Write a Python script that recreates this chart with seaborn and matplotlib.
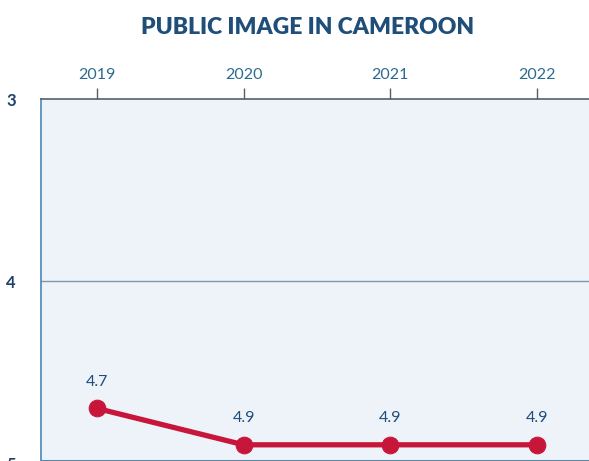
import matplotlib
matplotlib.use("Agg")
import matplotlib.pyplot as plt
import seaborn as sns
import pandas as pd

years = [2019, 2020, 2021, 2022]
scores = [4.7, 4.9, 4.9, 4.9]
score_labels = ["4.7", "4.9", "4.9", "4.9"]
y_ticks = [3, 4, 5]

sns.set_theme(style="white")
plt.rcParams['font.family'] = ['Lato', 'DejaVu Sans']

df = pd.DataFrame({"year": years, "score": scores})

W, H = 589, 461
x_left, x_right = 41, 610
y_top, y_bot = 99, 463
fig = plt.figure(figsize=(W/100, H/100), dpi=100)
ax = fig.add_axes([x_left/W, 1 - y_bot/H, (x_right - x_left)/W, (y_bot - y_top)/H])
ax.set_facecolor("#eef3fa")

sns.lineplot(data=df, x="year", y="score", ax=ax, color="#c8163a",
             linewidth=3.8, marker="o", markersize=12,
             markeredgecolor="#c8163a", zorder=5)

for x, y, t in zip(years, scores, score_labels):
    ax.annotate(t, (x, y), xytext=(0, 19), textcoords="offset points",
                ha="center", va="center", fontsize=11.5, color="#1f4e79")

px_per_year = 147
ax.set_xlim(2019 - (97 - x_left)/px_per_year, 2022 + (x_right - 537)/px_per_year)
ax.set_ylim(5, 3)
ax.set_yticks(y_ticks)
ax.set_yticklabels([str(v) for v in y_ticks], fontsize=12, fontweight="bold", color="#1f3f6e")
ax.set_xticks(years)
ax.set_xticklabels([str(v) for v in years], fontsize=11.5, color="#2d6a8f")
ax.xaxis.tick_top()
ax.tick_params(axis="x", direction="out", length=8, width=1, color="#555f6a", pad=4)
ax.tick_params(axis="y", direction="out", length=10, width=1, color="#555f6a", pad=8)
ax.axhline(4, color="#7a9ab0", linewidth=1, zorder=1)
ax.set_xlabel("")
ax.set_ylabel("")

for s in ["right", "bottom"]:
    ax.spines[s].set_visible(False)
ax.spines["left"].set_color("#4a86b8")
ax.spines["left"].set_linewidth(1.2)
ax.spines["top"].set_color("#555f6a")
ax.spines["top"].set_linewidth(1.2)
ax.axhline(4.99, color="#5a86a8", linewidth=1.5, zorder=2)

fig.text(308/W, 1 - 27/H, "PUBLIC IMAGE IN CAMEROON", ha="center", va="center",
         fontsize=16.5, fontweight="heavy", color="#1f4e79")

fig.savefig("out.png", dpi=100)
